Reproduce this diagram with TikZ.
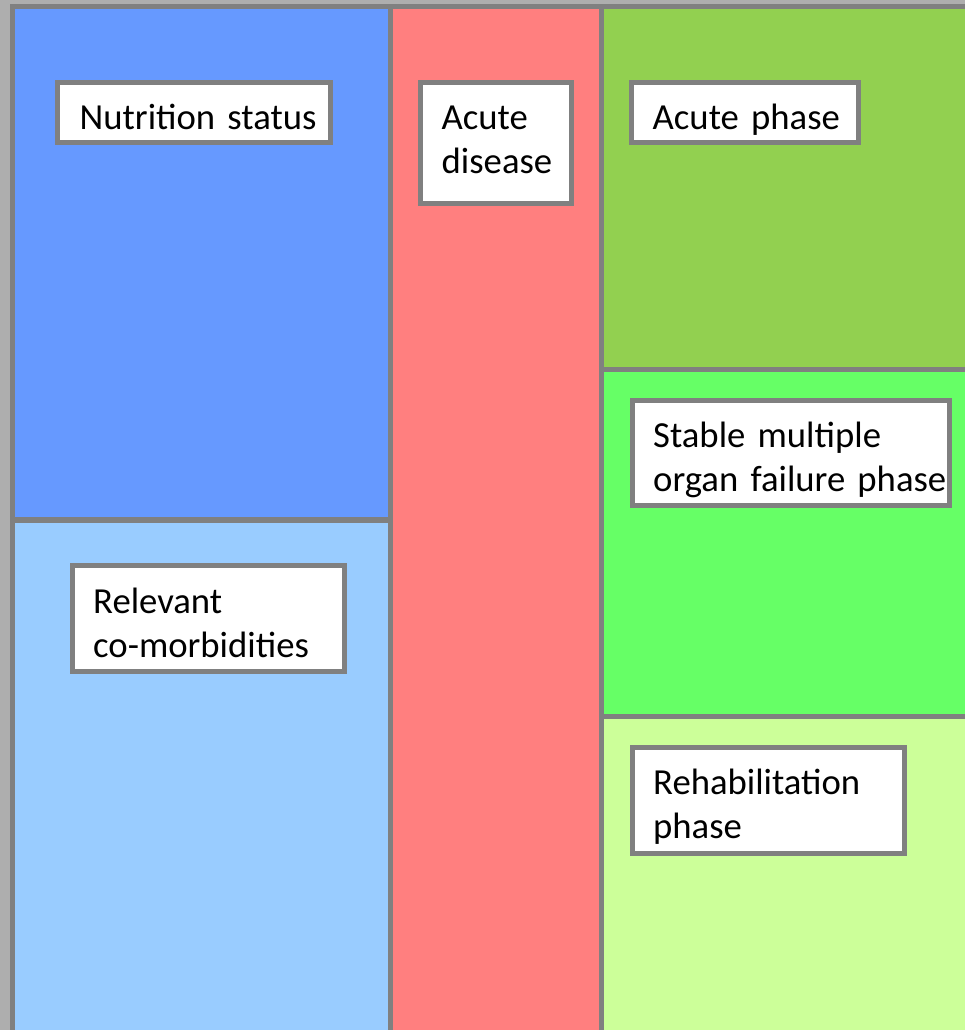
\documentclass[tikz,border=0pt]{standalone}
\usepackage{fontspec}
\setmainfont{Carlito}
\newcommand\mytagfont{\fontsize{36.7}{44.5}\selectfont\spaceskip=0.21em plus 0.05em\relax}
\definecolor{marg}{HTML}{AEAEAE}
\definecolor{frame}{HTML}{808080}
\definecolor{pblue}{HTML}{6699FF}
\definecolor{plblue}{HTML}{99CCFF}
\definecolor{pred}{HTML}{FF7F7F}
\definecolor{polive}{HTML}{92D050}
\definecolor{pgreen}{HTML}{66FF66}
\definecolor{plgreen}{HTML}{CCFF99}
\tikzset{
  tagbox/.style={draw=frame, line width=5pt, fill=white, inner sep=0pt},
  tagtext/.style={anchor=base west, inner sep=0pt, text width=330pt, align=left,
    font=\mytagfont, text=black}
}
\begin{document}
\begin{tikzpicture}[x=1pt,y=-1pt]
\useasboundingbox (0,0) rectangle (965,1030);
\fill[marg] (0,0) rectangle (965,1030);
\fill[frame] (10,4) rectangle (965,1030);
% panels
\fill[pblue] (15,9) rectangle (388,517);
\fill[plblue] (15,523) rectangle (388,1030);
\fill[pred] (393,9) rectangle (599,1030);
\fill[polive] (604,9) rectangle (965,367);
\fill[pgreen] (604,372) rectangle (965,714);
\fill[plgreen] (604,719) rectangle (965,1030);
% boxes
\node[tagbox, minimum width=273pt, minimum height=60pt] (b1) at (194,112.5) {};
\node[tagtext] (t1) at (79.5,129) {Nutrition status};
\node[tagbox, minimum width=151pt, minimum height=121pt] (b2) at (496,143) {};
\node[tagtext] (t2) at (441.5,129) {Acute\\disease};
\node[tagbox, minimum width=227pt, minimum height=60pt] (b3) at (745,112.5) {};
\node[tagtext] (t3) at (652.5,129) {Acute phase};
\node[tagbox, minimum width=317pt, minimum height=105pt] (b4) at (791,453) {};
\node[tagtext] (t4) at (653,447) {Stable multiple\\organ failure phase};
\node[tagbox, minimum width=272pt, minimum height=106pt] (b5) at (208.5,618.5) {};
\node[tagtext] (t5) at (93,613) {Relevant\\co-morbidities};
\node[tagbox, minimum width=272pt, minimum height=106pt] (b6) at (768.5,800.5) {};
\node[tagtext] (t6) at (653,794) {Rehabilitation\\phase};
\end{tikzpicture}
\end{document}
